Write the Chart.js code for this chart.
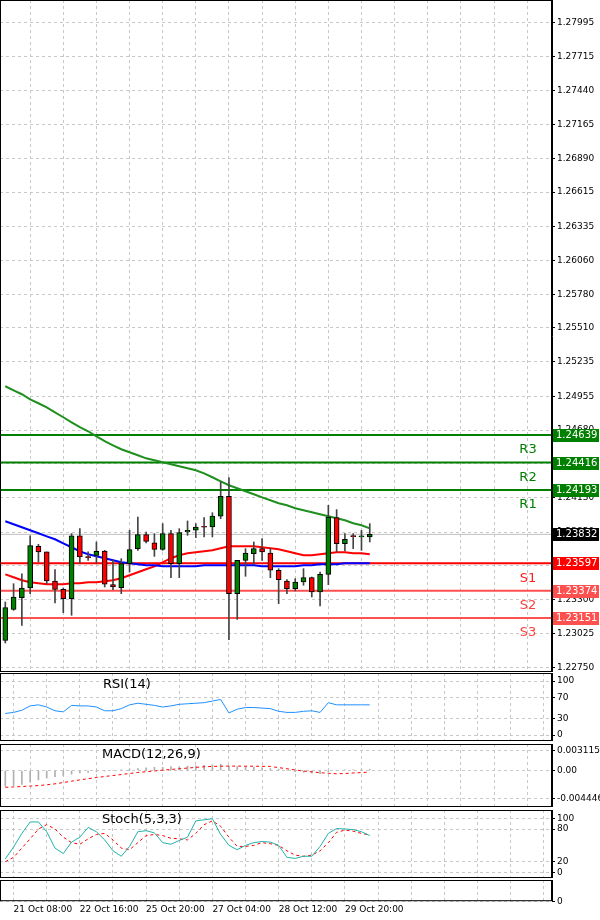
<!DOCTYPE html>
<html><head><meta charset="utf-8">
<script src="https://cdn.jsdelivr.net/npm/chart.js@4.4.1/dist/chart.umd.min.js"></script>
<style>
body{margin:0;background:#fff;}
#wrap{position:relative;width:600px;height:920px;background:#fff;overflow:hidden;}
canvas{position:absolute;left:0;}
.lbl{position:absolute;font-family:"DejaVu Sans",sans-serif;font-size:13px;color:#000;}
</style></head><body>
<div id="wrap">
<canvas id="cMain" width="600" height="672" style="top:0"></canvas>
<canvas id="cRsi" width="600" height="68" style="top:673px"></canvas>
<canvas id="cMacd" width="600" height="63" style="top:744px"></canvas>
<canvas id="cSto" width="600" height="68" style="top:810px"></canvas>
<canvas id="cBot" width="600" height="38" style="top:880px"></canvas>
<div class="lbl" style="left:103px;top:676px">RSI(14)</div>
<div class="lbl" style="left:102px;top:746px">MACD(12,26,9)</div>
<div class="lbl" style="left:102px;top:811px">Stoch(5,3,3)</div>
</div>
<script>
const openP  = [1.22970,1.23222,1.23317,1.23396,1.23735,1.23689,1.23453,1.23385,1.23309,1.23821,1.23648,1.23661,1.23697,1.23423,1.23399,1.23594,1.23716,1.23830,1.23764,1.23710,1.23838,1.23594,1.23851,1.23865,1.23892,1.23892,1.23979,1.24141,1.23350,1.23621,1.23675,1.23716,1.23680,1.23540,1.23453,1.23390,1.23445,1.23480,1.23363,1.23507,1.23968,1.23756,1.23816,1.23811,1.23811];
const closeP = [1.23236,1.23323,1.23396,1.23740,1.23689,1.23453,1.23385,1.23309,1.23821,1.23648,1.23643,1.23694,1.23426,1.23404,1.23594,1.23708,1.23830,1.23775,1.23710,1.23838,1.23594,1.23846,1.23865,1.23892,1.23890,1.23981,1.24141,1.23350,1.23621,1.23680,1.23716,1.23689,1.23540,1.23464,1.23390,1.23445,1.23480,1.23363,1.23507,1.23973,1.23756,1.23792,1.23814,1.23813,1.23832];
const highP  = [1.23282,1.23431,1.23512,1.23819,1.23751,1.23689,1.23545,1.23396,1.23838,1.23878,1.23689,1.23770,1.23702,1.23621,1.23634,1.23865,1.23973,1.23851,1.23838,1.23919,1.23865,1.23878,1.23941,1.23919,1.23968,1.24008,1.24258,1.24293,1.23621,1.23716,1.23770,1.23797,1.23716,1.23553,1.23464,1.23472,1.23553,1.23485,1.23526,1.24068,1.24033,1.23838,1.23838,1.23865,1.23919];
const lowP   = [1.22949,1.23214,1.23092,1.23350,1.23607,1.23431,1.23274,1.23195,1.23174,1.23594,1.23621,1.23599,1.23404,1.23382,1.23350,1.23526,1.23702,1.23762,1.23653,1.23702,1.23480,1.23480,1.23824,1.23805,1.23811,1.23811,1.23959,1.22976,1.23141,1.23491,1.23588,1.23621,1.23480,1.23269,1.23350,1.23372,1.23418,1.23323,1.23250,1.23423,1.23689,1.23697,1.23716,1.23702,1.23770];
const maGreen = [1.25036,1.25003,1.24971,1.24930,1.24898,1.24865,1.24824,1.24784,1.24743,1.24703,1.24670,1.24629,1.24589,1.24556,1.24524,1.24499,1.24475,1.24450,1.24434,1.24418,1.24402,1.24385,1.24369,1.24353,1.24328,1.24296,1.24263,1.24231,1.24207,1.24182,1.24158,1.24133,1.24109,1.24085,1.24068,1.24044,1.24028,1.24011,1.23995,1.23979,1.23963,1.23946,1.23922,1.23906,1.23881];
const maBlue = [1.23938,1.23914,1.23890,1.23865,1.23841,1.23816,1.23792,1.23759,1.23727,1.23694,1.23670,1.23654,1.23638,1.23621,1.23605,1.23597,1.23589,1.23581,1.23581,1.23572,1.23572,1.23572,1.23572,1.23572,1.23581,1.23581,1.23581,1.23581,1.23581,1.23581,1.23581,1.23572,1.23572,1.23572,1.23572,1.23572,1.23581,1.23581,1.23589,1.23589,1.23589,1.23597,1.23597,1.23597,1.23597];
const maRed = [1.23507,1.23483,1.23459,1.23442,1.23434,1.23426,1.23426,1.23426,1.23434,1.23434,1.23442,1.23442,1.23451,1.23459,1.23475,1.23499,1.23524,1.23548,1.23572,1.23605,1.23638,1.23662,1.23678,1.23686,1.23694,1.23703,1.23719,1.23735,1.23735,1.23735,1.23735,1.23727,1.23719,1.23711,1.23694,1.23678,1.23662,1.23662,1.23670,1.23678,1.23686,1.23686,1.23678,1.23678,1.23670];
const levelNames = ["R3","R2","R1","S1","S2","S3"];
const levelValues = [1.24639,1.24416,1.24193,1.23597,1.23374,1.23151];
const currentPrice = 1.23832;
const priceTicks = [1.27995,1.27715,1.27440,1.27165,1.26890,1.26615,1.26335,1.26060,1.25780,1.25510,1.25235,1.24955,1.24680,1.24405,1.24130,1.23850,1.23575,1.23300,1.23025,1.22750];
const rsiValues = [40,42,46,54,56,52,45,43,55,54,54,52,45,45,49,56,59,57,55,52,54,57,58,59,60,63,66,41,48,51,51,50,49,44,42,42,44,45,42,60,56,56,56,56,56];
const rsiTicks = [100,70,30,0];
const macdMain = [-0.0025,-0.0024,-0.0022,-0.0018,-0.0015,-0.0012,-0.0010,-0.0008,-0.0006,-0.0004,-0.0003,-0.0002,-0.0001,0,0.0001,0.0002,0.0003,0.0004,0.0005,0.0005,0.0006,0.0006,0.0007,0.0007,0.0008,0.0009,0.0010,0.0007,0.0006,0.0006,0.0005,0.0004,0.0003,0.0002,0,-0.0002,-0.0003,-0.0004,-0.0005,-0.0002,0,0.0001,0.0001,0.0001,0.0002];
const macdSignal = [-0.00267,-0.00262,-0.00255,-0.00248,-0.00240,-0.00228,-0.00212,-0.00192,-0.00170,-0.00150,-0.00130,-0.00112,-0.00096,-0.00080,-0.00065,-0.00048,-0.00032,-0.00020,-0.00008,0.00005,0.00016,0.00027,0.00038,0.00049,0.00059,0.00064,0.00068,0.00069,0.00069,0.00068,0.00067,0.00066,0.00064,0.00045,0.00027,0.00008,-0.00010,-0.00022,-0.00035,-0.00045,-0.00053,-0.00048,-0.00040,-0.00033,-0.00027];
const macdTicks = [0.003115,0,-0.004446];
const stochMain = [25,47,72,93,93,75,45,35,56,65,83,75,60,40,30,48,75,77,73,55,52,59,65,95,97,99,70,50,42,50,55,57,56,50,28,26,30,30,48,72,81,80,79,75,68];
const stochSignal = [20,28,45,62,80,88,80,65,55,52,62,70,72,60,45,42,55,68,70,68,63,62,60,72,88,95,85,65,48,48,50,55,53,50,40,32,30,32,40,55,74,78,76,72,69];
const stochTicks = [100,80,20,0];
const dateLabels = ["21 Oct 08:00","22 Oct 16:00","25 Oct 20:00","27 Oct 04:00","28 Oct 12:00","29 Oct 20:00"];

const FONT = '"DejaVu Sans", sans-serif';
const XMIN = -0.64, XMAX = 66.0;
Chart.defaults.font.family = FONT;
Chart.defaults.animation = false;
const idx = openP.map((_, i) => i);

function xScale(showLabels){
  return {
    type:'linear', min:XMIN, max:XMAX, offset:false,
    afterBuildTicks(s){ const t=[]; for(let v=1; v<XMAX; v+=4) t.push({value:v}); s.ticks=t; },
    grid:{color:'#c8c8c8', drawTicks:false},
    border:{display:false, dash:[3,3]},
    ticks: showLabels ? {
      display:true, autoSkip:false, maxRotation:0, align:'start', padding:3,
      font:{size:9}, color:'#000',
      callback(v){ const k=Math.round((v-1)/8); return Math.abs(v-1-8*k)<0.01 && k<dateLabels.length ? dateLabels[k] : ''; }
    } : {display:false},
    afterFit(s){ if(!showLabels) s.height=0; s.paddingLeft=0; s.paddingRight=0; }
  };
}
function yScale(min,max,ticks,fmt,fontSize){
  return {
    type:'linear', position:'right', min, max,
    afterBuildTicks(s){ s.ticks = ticks.map(v=>({value:v})); },
    afterFit(s){ s.width=48; s.paddingTop=0; s.paddingBottom=0; },
    grid:{color:'#c8c8c8', tickColor:'#000', tickLength:3, drawTicks:true},
    border:{display:true, color:'#000', dash:[3,3]},
    ticks:{color:'#000', font:{size:fontSize||9}, padding:2, autoSkip:false, callback: fmt}
  };
}
const framePlugin = {
  id:'frame',
  afterDraw(c){
    const a=c.chartArea, ctx=c.ctx;
    ctx.save(); ctx.strokeStyle='#000'; ctx.lineWidth=1; ctx.setLineDash([]);
    ctx.strokeRect(a.left+0.5,a.top+0.5,a.right-a.left-1,a.bottom-a.top-1);
    ctx.restore();
  }
};
const baseOpts = {responsive:false, devicePixelRatio:1, maintainAspectRatio:false,
  layout:{padding:0}, plugins:{legend:{display:false}, tooltip:{enabled:false}}};

const levelColors = ['#008000','#008000','#008000','#ff0000','#ff5050','#ff5050'];
const levelTextColors = ['#008000','#008000','#008000','#ff2020','#ff4040','#ff4040'];
const levelDatasets = levelValues.map((v,i)=>({type:'line', data:[{x:XMIN,y:v},{x:XMAX,y:v}],
  borderColor:levelColors[i], borderWidth:2, pointRadius:0, order:3}));
const levelPlugin = {
  id:'levels',
  afterDraw(c){
    const ctx=c.ctx, y=c.scales.y, a=c.chartArea;
    ctx.save();
    ctx.font='13px '+FONT; ctx.textAlign='center'; ctx.textBaseline='middle';
    levelValues.forEach((v,i)=>{ const py=y.getPixelForValue(v);
      ctx.fillStyle=levelTextColors[i]; ctx.fillText(levelNames[i], 528, py+15); });
    ctx.font='10px '+FONT; ctx.textAlign='left';
    const box=(v,bg)=>{ const py=Math.round(y.getPixelForValue(v));
      ctx.fillStyle=bg; ctx.fillRect(a.right+1,py-6,46,13);
      ctx.fillStyle='#fff'; ctx.fillText(v.toFixed(5), a.right+4, py+0.5); };
    levelValues.forEach((v,i)=>box(v,levelColors[i]));
    box(currentPrice,'#000');
    ctx.restore();
  }
};
new Chart(document.getElementById('cMain'), {
  data:{datasets:[
    {type:'bar', data:idx.map(i=>({x:i,y:[openP[i],closeP[i]]})), grouped:false, barThickness:5, minBarLength:1,
      backgroundColor:idx.map(i=>closeP[i]>=openP[i]?'#008000':'#ff0000'), borderColor:'#000', borderWidth:1, borderSkipped:false, order:0},
    {type:'bar', data:idx.map(i=>({x:i,y:[lowP[i],highP[i]]})), grouped:false, barThickness:1,
      backgroundColor:'#444', borderWidth:0, order:1},
    {type:'line', data:idx.map(i=>({x:i,y:maGreen[i]})), borderColor:'#1f8f1f', borderWidth:2, pointRadius:0, order:2},
    {type:'line', data:idx.map(i=>({x:i,y:maBlue[i]})), borderColor:'#0000ff', borderWidth:2, pointRadius:0, order:2},
    {type:'line', data:idx.map(i=>({x:i,y:maRed[i]})), borderColor:'#ff0000', borderWidth:2, pointRadius:0, order:2},
    {type:'line', data:[{x:XMIN,y:currentPrice},{x:XMAX,y:currentPrice}], borderColor:'#c0c0c0', borderWidth:1, pointRadius:0, order:4},
    ...levelDatasets
  ]},
  options:{...baseOpts, scales:{x:xScale(false), y:yScale(1.22713,1.28176,priceTicks,v=>v.toFixed(5))}},
  plugins:[framePlugin, levelPlugin]
});
new Chart(document.getElementById('cRsi'), {
  data:{datasets:[{type:'line', data:idx.map(i=>({x:i,y:rsiValues[i]})), borderColor:'#1e90ff', borderWidth:1, pointRadius:0}]},
  options:{...baseOpts, scales:{x:xScale(false), y:yScale(-11,115,rsiTicks,v=>String(v))}},
  plugins:[framePlugin]
});
new Chart(document.getElementById('cMacd'), {
  data:{datasets:[
    {type:'bar', data:idx.map(i=>({x:i,y:macdMain[i]})), grouped:false, barThickness:1, backgroundColor:'#b0b0b0', borderWidth:0, order:1},
    {type:'line', data:idx.map(i=>({x:i,y:macdSignal[i]})), borderColor:'#ff0000', borderWidth:1, borderDash:[3,3], pointRadius:0, order:0}
  ]},
  options:{...baseOpts, scales:{x:xScale(false), y:yScale(-0.0058,0.0042,macdTicks,v=>v===0?'0.00':String(v))}},
  plugins:[framePlugin]
});
new Chart(document.getElementById('cSto'), {
  data:{datasets:[
    {type:'line', data:idx.map(i=>({x:i,y:stochMain[i]})), borderColor:'#20b2aa', borderWidth:1, pointRadius:0},
    {type:'line', data:idx.map(i=>({x:i,y:stochSignal[i]})), borderColor:'#ff0000', borderWidth:1, borderDash:[3,3], pointRadius:0}
  ]},
  options:{...baseOpts, scales:{x:xScale(false), y:yScale(-10,115,stochTicks,v=>String(v))}},
  plugins:[framePlugin]
});
new Chart(document.getElementById('cBot'), {
  data:{datasets:[{type:'line', data:[], pointRadius:0}]},
  options:{...baseOpts, scales:{x:xScale(true), y:yScale(0,1,[0],v=>'0')}},
  plugins:[framePlugin]
});
</script>
</body></html>
